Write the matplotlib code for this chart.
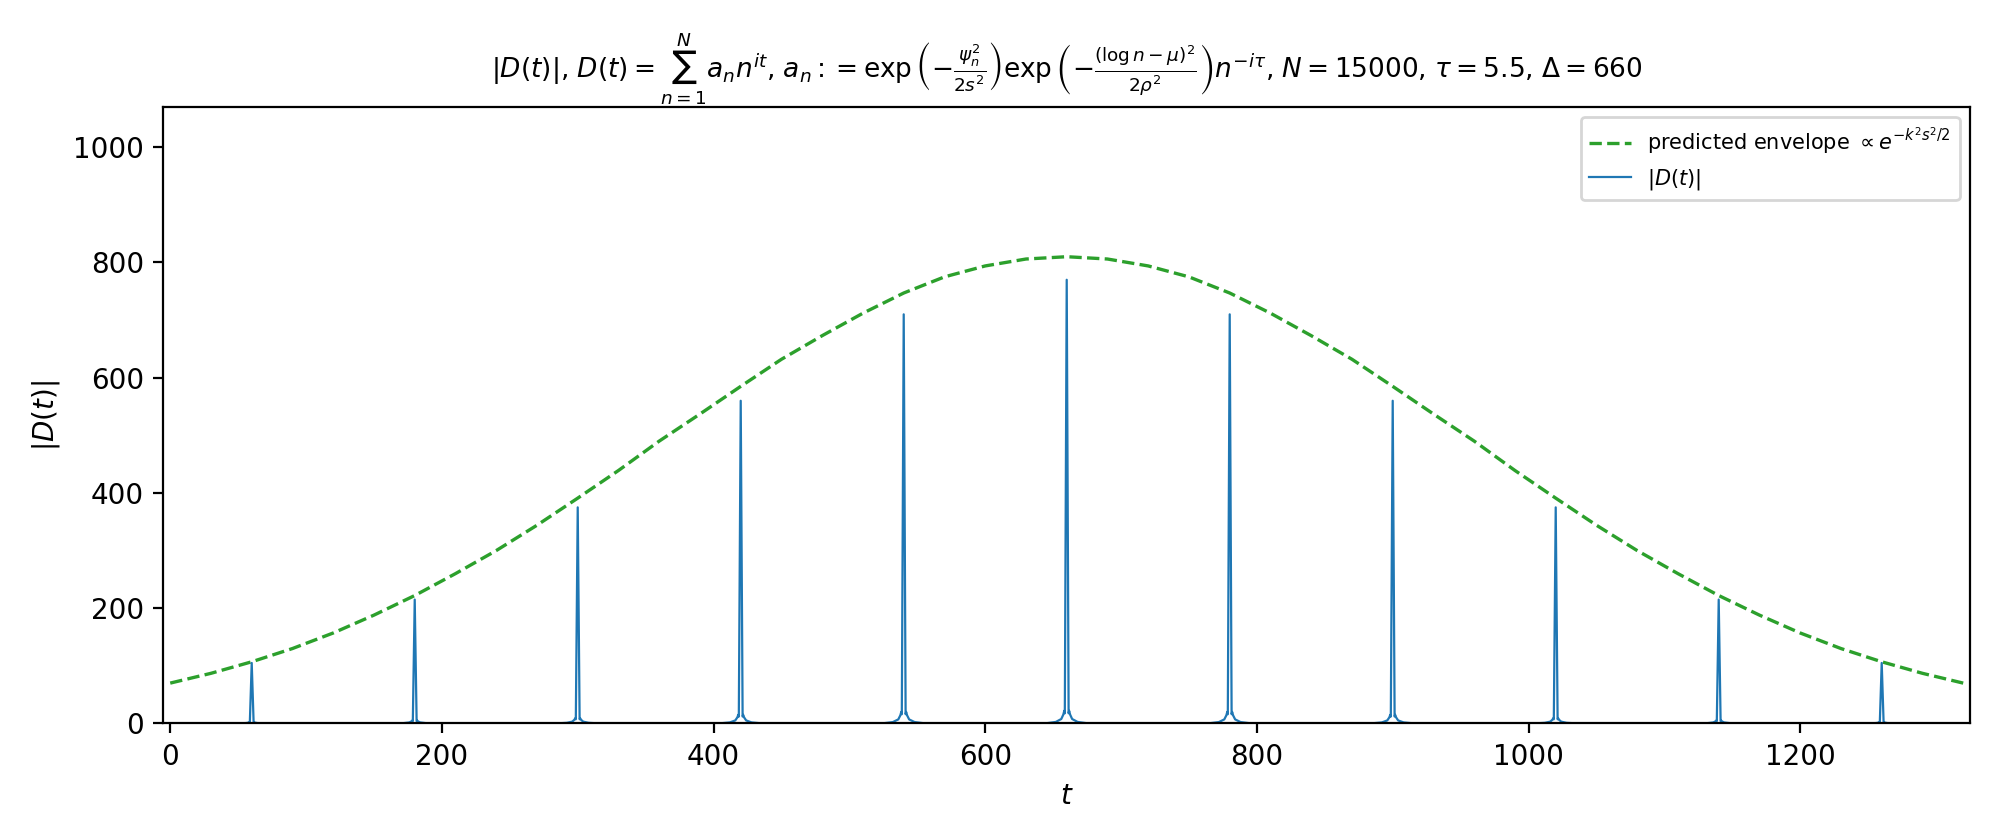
import numpy as np
import matplotlib.pyplot as plt

# peak positions and heights
peak_t = [60, 180, 300, 420, 540, 660, 780, 900, 1020, 1140, 1260]
peak_h = [105, 215, 375, 560, 710, 770, 710, 560, 375, 215, 105]
# base shoulder heights next to each peak
shoulder_h = [2, 5, 9, 15, 20, 22, 20, 15, 9, 5, 2]

# predicted envelope, sampled from the chart every 30 in t
env_t = list(range(0, 1321, 30))
env_y = [70, 87, 107, 130, 157, 188, 222, 260, 300, 344, 391, 439,
         490, 537, 585, 632, 673, 712, 747, 775, 794, 806, 810,
         806, 794, 775, 747, 712, 673, 632, 585, 537, 490, 439,
         391, 344, 300, 260, 222, 188, 157, 130, 107, 87, 70]

# shape of each spike around its centre (offset in t)
off = [-16, -8, -4, -2.5, -1.8, -1.4, 0, 1.4, 1.8, 2.5, 4, 8, 16]

t_line, y_line = [0.0], [0.0]
for c, h, s in zip(peak_t, peak_h, shoulder_h):
    vals = [0, 0.12 * s, 0.35 * s, 0.7 * s, s, 0.8 * s, h,
            0.8 * s, s, 0.7 * s, 0.35 * s, 0.12 * s, 0]
    t_line += [c + o for o in off]
    y_line += vals
t_line.append(1320.0)
y_line.append(0.0)

fig, ax = plt.subplots(figsize=(10, 4.2), dpi=200)
ax.plot(env_t, env_y, '--', color='tab:green', lw=1.2,
        label=r'predicted envelope $\propto e^{-k^2 s^2/2}$')
ax.plot(t_line, y_line, color='tab:blue', lw=0.8, label=r'$|D(t)|$')

ax.set_xlim(-5, 1325)
ax.set_ylim(0, 1070)
ax.set_xlabel(r'$t$')
ax.set_ylabel(r'$|D(t)|$')
ax.set_title(r'$|D(t)|$, $D(t)=\sum_{n=1}^{N} a_n n^{it}$, '
             r'$a_n:=\exp\left(-\frac{\psi_n^2}{2s^2}\right)'
             r'\exp\left(-\frac{(\log n-\mu)^2}{2\rho^2}\right)n^{-i\tau}$, '
             r'$N=15000$, $\tau=5.5$, $\Delta=660$', fontsize=9.5)
ax.legend(loc='upper right', fontsize=7.5)

plt.tight_layout()
plt.savefig('out.png', dpi=200)
